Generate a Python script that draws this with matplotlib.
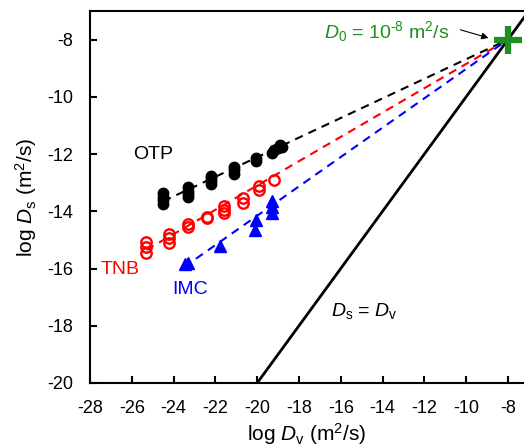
import matplotlib
matplotlib.use("Agg")
import matplotlib.pyplot as plt

plt.rcParams["font.family"] = ["Liberation Sans", "DejaVu Sans"]
plt.rcParams["mathtext.fontset"] = "custom"
plt.rcParams["mathtext.rm"] = "Liberation Sans"
plt.rcParams["mathtext.it"] = "Liberation Sans:italic"
plt.rcParams["axes.unicode_minus"] = False

# OTP (filled black circles)
otp_x = [-24.5, -24.5, -24.5, -24.5,
         -23.3, -23.3, -23.3, -23.3,
         -22.2, -22.2, -22.2, -22.2,
         -21.1, -21.1, -21.1,
         -20.05, -20.05,
         -19.3, -19.2, -19.0, -18.9, -18.8]
otp_y = [-13.35, -13.5, -13.6, -13.75,
         -13.15, -13.3, -13.4, -13.5,
         -12.75, -12.85, -12.95, -13.05,
         -12.45, -12.55, -12.7,
         -12.15, -12.25,
         -11.95, -11.85, -11.8, -11.7, -11.75]

# TNB (open red circles)
tnb_x = [-25.3, -25.3, -25.3,
         -24.2, -24.2, -24.2,
         -23.3, -23.3,
         -22.4, -22.4,
         -21.6, -21.6, -21.6,
         -20.7, -20.7,
         -19.9, -19.9,
         -19.2]
tnb_y = [-15.07, -15.25, -15.45,
         -14.78, -14.95, -15.1,
         -14.45, -14.55,
         -14.2, -14.25,
         -13.8, -13.95, -14.05,
         -13.55, -13.7,
         -13.1, -13.25,
         -12.9]

# IMC (blue triangles)
imc_x = [-23.45, -23.3, -21.8, -20.05, -20.1, -19.3, -19.3, -19.3]
imc_y = [-15.85, -15.8, -15.2, -14.3, -14.65, -13.65, -13.85, -14.05]

# fitted lines converging to D0
d0 = -8
otp_fit_x, otp_fit_y = [-24.5, d0], [-13.65, d0]
tnb_fit_x, tnb_fit_y = [-25.3, d0], [-15.35, d0]
imc_fit_x, imc_fit_y = [-23.5, d0], [-15.95, d0]

# Ds = Dv
eq_x = [-20, -7.2]

green = "#1f8f1f"

fig = plt.figure(figsize=(5.24, 4.47), dpi=100)
ax = fig.add_axes([0.1718, 0.1432, 0.8282, 0.8322])

ax.plot(otp_fit_x, otp_fit_y, color="black", lw=1.5, ls=(0, (4, 3)), zorder=2)
ax.plot(tnb_fit_x, tnb_fit_y, color="red", lw=1.5, ls=(0, (4, 3)), zorder=2)
ax.plot(imc_fit_x, imc_fit_y, color="blue", lw=1.5, ls=(0, (4, 3)), zorder=2)
ax.plot(eq_x, eq_x, color="black", lw=2, zorder=2)

ax.plot(otp_x, otp_y, "o", color="black", ms=7.5, zorder=3)
ax.plot(tnb_x, tnb_y, "o", mfc="none", mec="red", mew=1.7, ms=7.5, zorder=3)
ax.plot(imc_x, imc_y, "^", color="blue", ms=9, zorder=3)

ax.plot([d0], [d0], "+", color=green, ms=20, mew=4.5, zorder=4)

ax.annotate("", xy=(-8.8, -7.97), xytext=(-10.4, -7.63),
            arrowprops=dict(arrowstyle="-|>", color="black", lw=0.8,
                            mutation_scale=10))
ax.text(-16.8, -7.71, "$D_0$ = 10$^{\u20108}$ m$^2$/s", color=green,
        fontsize=14, va="center", ha="left")
ax.text(-16.45, -17.5, r"$D_\mathrm{s}$ = $D_\mathrm{v}$", fontsize=14,
        va="center", ha="left")
ax.text(-25.95, -12.02, "OTP", fontsize=14, va="center", ha="left")
ax.text(-27.5, -16.04, "TNB", color="red", fontsize=14, va="center", ha="left")
ax.text(-24.05, -16.74, "IMC", color="blue", fontsize=14, va="center", ha="left")

ax.set_xlim(-28, -7.23)
ax.set_ylim(-20, -7)
ax.set_xticks(range(-28, -7, 2))
ax.set_yticks(range(-20, -7, 2))
ax.tick_params(direction="in", length=5, width=1.5, labelsize=13, pad=12)
ax.spines["right"].set_visible(False)
for s in ["left", "bottom", "top"]:
    ax.spines[s].set_linewidth(1.5)

ax.set_xlabel(r"log $D_\mathrm{v}$ (m$^2$/s)", fontsize=15, labelpad=3)
ax.set_ylabel(r"log $D_\mathrm{s}$ (m$^2$/s)", fontsize=15, labelpad=6)

fig.savefig("out.png", dpi=100)
